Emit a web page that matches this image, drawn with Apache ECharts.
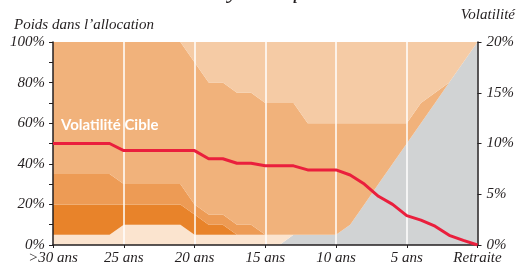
<!DOCTYPE html>
<html>
<head>
<meta charset="utf-8">
<script src="https://cdn.jsdelivr.net/npm/echarts@6/dist/echarts.min.js"></script>
<style>
  html, body { margin: 0; padding: 0; background: #fff; }
  #chart { width: 517px; height: 266px; }
</style>
</head>
<body>
<div id="chart"></div>
<script>
  // années avant la retraite (30 = ">30 ans", 0 = "Retraite")
  var years = [30, 29, 28, 27, 26, 25, 24, 23, 22, 21, 20, 19, 18, 17, 16, 15,
    14, 13, 12, 11, 10, 9, 8, 7, 6, 5, 4, 3, 2, 1, 0]
  var gridYears = ['25 ans', '20 ans', '15 ans', '10 ans', '5 ans']

  // poids de chaque poche (%), empilés du bas vers le haut
  var gris = [0, 0, 0, 0, 0, 0, 0, 0, 0, 0, 0, 0, 0, 0, 0, 0,
    0, 5, 5, 5, 5, 10, 20, 30, 40, 50, 60, 70, 80, 90, 100]
  var creme = [5, 5, 5, 5, 5, 10, 10, 10, 10, 10, 5, 5, 5, 5, 5, 5,
    5, 0, 0, 0, 0, 0, 0, 0, 0, 0, 0, 0, 0, 0, 0]
  var orangeFonce = [15, 15, 15, 15, 15, 10, 10, 10, 10, 10, 10, 5, 5, 0, 0, 0,
    0, 0, 0, 0, 0, 0, 0, 0, 0, 0, 0, 0, 0, 0, 0]
  var orangeMoyen = [15, 15, 15, 15, 15, 10, 10, 10, 10, 10, 5, 5, 5, 5, 5, 0,
    0, 0, 0, 0, 0, 0, 0, 0, 0, 0, 0, 0, 0, 0, 0]
  var orangeClair = [65, 65, 65, 65, 65, 70, 70, 70, 70, 70, 70, 65, 65, 65, 65, 65,
    65, 65, 55, 55, 55, 50, 40, 30, 20, 10, 10, 5, 0, 0, 0]
  var peche = [0, 0, 0, 0, 0, 0, 0, 0, 0, 0, 10, 20, 20, 25, 25, 30,
    30, 30, 40, 40, 40, 40, 40, 40, 40, 40, 30, 25, 20, 10, 0]

  // volatilité cible (%), axe de droite
  var volatilite = [10, 10, 10, 10, 10, 9.3, 9.3, 9.3, 9.3, 9.3, 9.3, 8.5, 8.5, 8.05, 8.05, 7.8,
    7.8, 7.8, 7.4, 7.4, 7.4, 6.9, 6.0, 4.8, 4.0, 2.9, 2.45, 1.85, 0.95, 0.45, 0]

  function yearLabel(v) {
    v = Number(v)
    if (v === 30) return '>30 ans'
    if (v === 0) return 'Retraite'
    return v + ' ans'
  }
  var categories = years.map(yearLabel)

  var serif = 'Liberation Serif'
  var tickFont = { fontFamily: serif, fontStyle: 'italic', fontSize: 15, color: '#231f20' }

  function area(name, data, color) {
    return {
      name: name,
      type: 'line',
      stack: 'poids',
      data: data,
      symbol: 'none',
      lineStyle: { width: 0 },
      areaStyle: { color: color, opacity: 1 },
      silent: true
    }
  }

  var chart = echarts.init(document.getElementById('chart'))
  var series = [
    area('gris', gris, '#d1d3d4'),
    area('creme', creme, '#fbe4cf'),
    area('orangeFonce', orangeFonce, '#e8832a'),
    area('orangeMoyen', orangeMoyen, '#ed9b55'),
    area('orangeClair', orangeClair, '#f1b27b'),
    area('peche', peche, '#f5cba5')
  ]
  // lignes blanches verticales tous les 5 ans
  series[5].markLine = {
    silent: true,
    symbol: 'none',
    label: { show: false },
    lineStyle: { color: '#ffffff', width: 1.5, type: 'solid' },
    data: gridYears.map(function (c) { return { xAxis: c } })
  }
  series.push({
    name: 'Volatilité Cible',
    type: 'line',
    yAxisIndex: 1,
    data: volatilite,
    symbol: 'none',
    z: 10,
    lineStyle: { color: '#ea1f3d', width: 3 }
  })

  chart.setOption({
    animation: false,
    grid: { left: 53, right: 37, top: 42, bottom: 20.5 },
    xAxis: {
      type: 'category',
      data: categories,
      boundaryGap: false,
      z: 10,
      axisLine: { lineStyle: { color: '#231f20', width: 1.5 } },
      axisTick: { interval: 4, length: 3, lineStyle: { color: '#231f20' } },
      axisLabel: Object.assign({ interval: 4, margin: 6 }, tickFont),
      splitLine: { show: false }
    },
    yAxis: [
      {
        type: 'value',
        min: 0, max: 100, interval: 10,
        z: 10,
        axisLine: { show: true, lineStyle: { color: '#231f20', width: 1.5 } },
        axisTick: { show: true, length: 4, lineStyle: { color: '#231f20' } },
        axisLabel: Object.assign({
          margin: 8,
          formatter: function (v) { return v % 20 === 0 ? v + '%' : '' }
        }, tickFont),
        splitLine: { show: false }
      },
      {
        type: 'value',
        position: 'right',
        min: 0, max: 20, interval: 5,
        z: 10,
        axisLine: { show: true, lineStyle: { color: '#231f20', width: 1.5 } },
        axisTick: { show: true, length: 4, lineStyle: { color: '#231f20' } },
        axisLabel: Object.assign({ margin: 9, formatter: '{value}%' }, tickFont),
        splitLine: { show: false }
      }
    ],
    graphic: [
      {
        type: 'text', left: 14, top: 18,
        style: { text: 'Poids dans l’allocation', font: 'italic 15px "Liberation Serif"', fill: '#231f20' }
      },
      {
        type: 'text', right: 2, top: 8,
        style: { text: 'Volatilité', font: 'italic 15px "Liberation Serif"', fill: '#231f20' }
      },
      {
        type: 'text', left: 61, top: 118, z: 20,
        style: { text: 'Volatilité Cible', font: 'bold 15px Lato', fill: '#ffffff' }
      },
      {
        type: 'text', left: 110, top: -20,
        style: { text: 'Allocation dynamique', font: 'italic 24px "Liberation Serif"', fill: '#231f20' }
      }
    ],
    series: series
  })
</script>
</body>
</html>
